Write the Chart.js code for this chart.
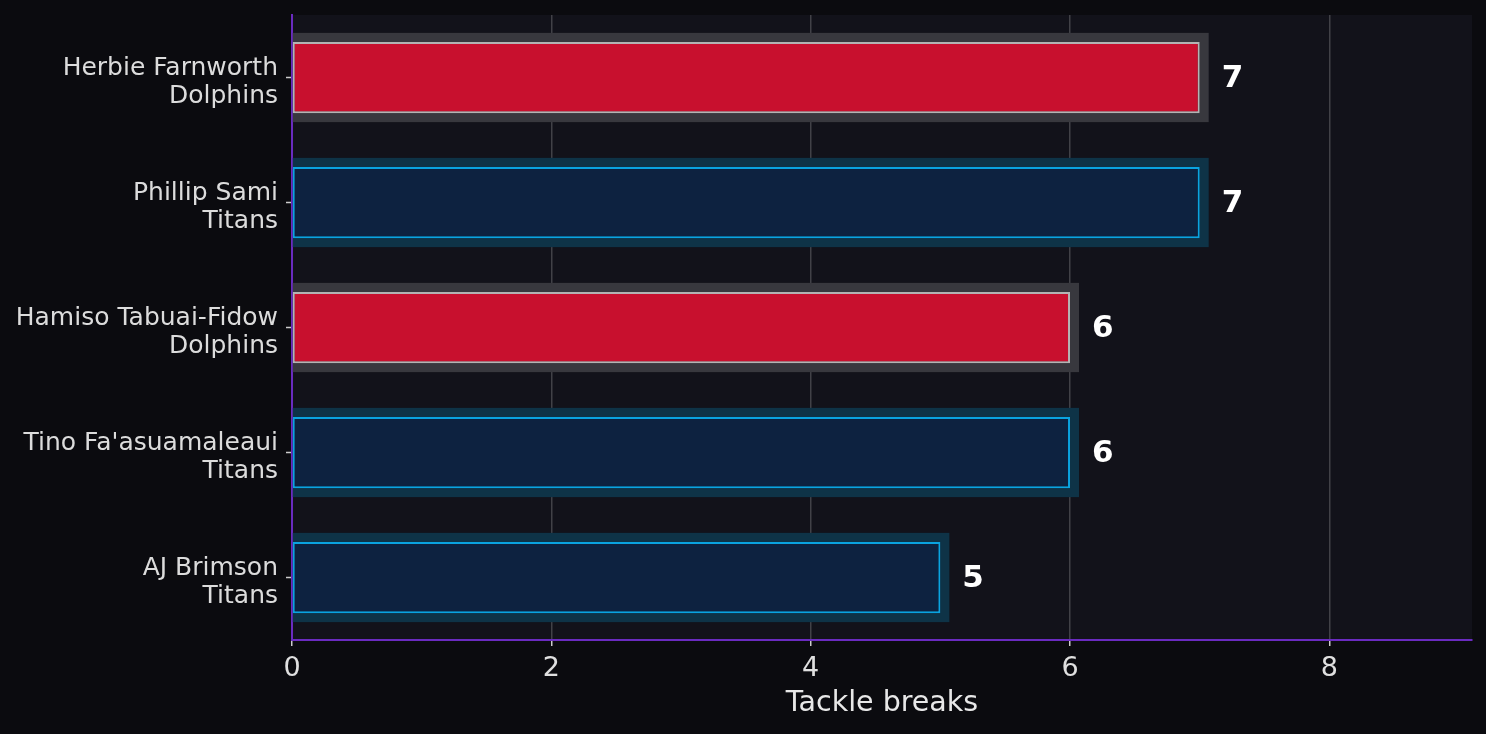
<!DOCTYPE html>
<html>
<head>
<meta charset="utf-8">
<script src="https://cdn.jsdelivr.net/npm/chart.js@4"></script>
<style>
    html, body { margin: 0; padding: 0; background: #0b0b0f; }
    #wrap { width: 1486px; height: 734px; position: relative; }
</style>
</head>
<body>
<div id="wrap"><canvas id="tackleChart"></canvas></div>
<script>
// Players and teams, top to bottom
const players = ['Herbie Farnworth', 'Phillip Sami', 'Hamiso Tabuai-Fidow', "Tino Fa'asuamaleaui", 'AJ Brimson'];
const teams = ['Dolphins', 'Titans', 'Dolphins', 'Titans', 'Titans'];
const tackleBreaks = [7, 7, 6, 6, 5];
const xTicks = [0, 2, 4, 6, 8];

const teamColors = {
    Dolphins: { fill: '#c8102e', border: '#b4b4b4', glow: '#38383e' },
    Titans: { fill: '#0d2240', border: '#0aa3e0', glow: '#0e3347' }
};

// plot background
const plotBg = {
    id: 'plotBg',
    beforeDraw(chart) {
        const { ctx, chartArea: a } = chart;
        ctx.save();
        ctx.fillStyle = '#12121a';
        ctx.fillRect(a.left, a.top, a.right - a.left, a.bottom - a.top);
        ctx.restore();
    }
};

// halo behind each bar
const barGlow = {
    id: 'barGlow',
    beforeDatasetsDraw(chart) {
        const { ctx } = chart;
        const meta = chart.getDatasetMeta(0);
        ctx.save();
        meta.data.forEach((bar, i) => {
            const pad = 9;
            ctx.fillStyle = teamColors[teams[i]].glow;
            ctx.fillRect(bar.base, bar.y - bar.height / 2 - pad, bar.x - bar.base + pad, bar.height + pad * 2);
        });
        ctx.restore();
    }
};

// value labels at bar ends
const valueLabels = {
    id: 'valueLabels',
    afterDatasetsDraw(chart) {
        const { ctx } = chart;
        const meta = chart.getDatasetMeta(0);
        ctx.save();
        ctx.font = 'bold 31px "DejaVu Sans"';
        ctx.fillStyle = '#ffffff';
        ctx.textAlign = 'left';
        ctx.textBaseline = 'middle';
        meta.data.forEach((bar, i) => {
            ctx.fillText(String(tackleBreaks[i]), bar.x + 22, bar.y + 1);
        });
        ctx.restore();
    }
};

const ctx = document.getElementById('tackleChart').getContext('2d');
new Chart(ctx, {
    type: 'bar',
    data: {
        labels: players.map((p, i) => [p, teams[i]]),
        datasets: [{
            label: 'Tackle breaks',
            data: tackleBreaks,
            backgroundColor: teams.map(t => teamColors[t].fill),
            borderColor: teams.map(t => teamColors[t].border),
            borderWidth: 2,
            borderSkipped: false,
            categoryPercentage: 1,
            barPercentage: 0.57
        }]
    },
    options: {
        indexAxis: 'y',
        responsive: true,
        maintainAspectRatio: false,
        animation: false,
        layout: { padding: { top: 15, right: 14, left: 0, bottom: 0 } },
        plugins: {
            legend: { display: false },
            tooltip: { enabled: false }
        },
        scales: {
            x: {
                min: 0,
                max: 9.1,
                afterBuildTicks: (axis) => { axis.ticks = xTicks.map(v => ({ value: v })); },
                afterFit: (axis) => { axis.height = 94; },
                ticks: {
                    color: '#e0e0e0',
                    font: { family: 'DejaVu Sans', size: 27 },
                    padding: 7
                },
                grid: {
                    color: 'rgba(255,255,255,0.2)',
                    lineWidth: 1.5,
                    tickColor: '#cccccc',
                    tickWidth: 1.5,
                    tickLength: 6
                },
                border: { color: '#6a2bc0', width: 2 },
                title: {
                    display: true,
                    text: 'Tackle breaks',
                    color: '#e8e8e8',
                    font: { family: 'DejaVu Sans', size: 28.5 },
                    padding: { top: 0, bottom: 13 }
                }
            },
            y: {
                afterFit: (axis) => {
                    axis.width = 292;
                    axis.paddingTop = 0;
                    axis.paddingBottom = 0;
                },
                ticks: {
                    color: '#dcdcdc',
                    font: { family: 'DejaVu Sans', size: 25, lineHeight: 1.1 },
                    padding: 8,
                    labelOffset: 5
                },
                grid: {
                    offset: false,
                    drawOnChartArea: false,
                    tickColor: '#cccccc',
                    tickWidth: 1.5,
                    tickLength: 6
                },
                border: { color: '#6a2bc0', width: 2 }
            }
        }
    },
    plugins: [plotBg, barGlow, valueLabels]
});
</script>
</body>
</html>
